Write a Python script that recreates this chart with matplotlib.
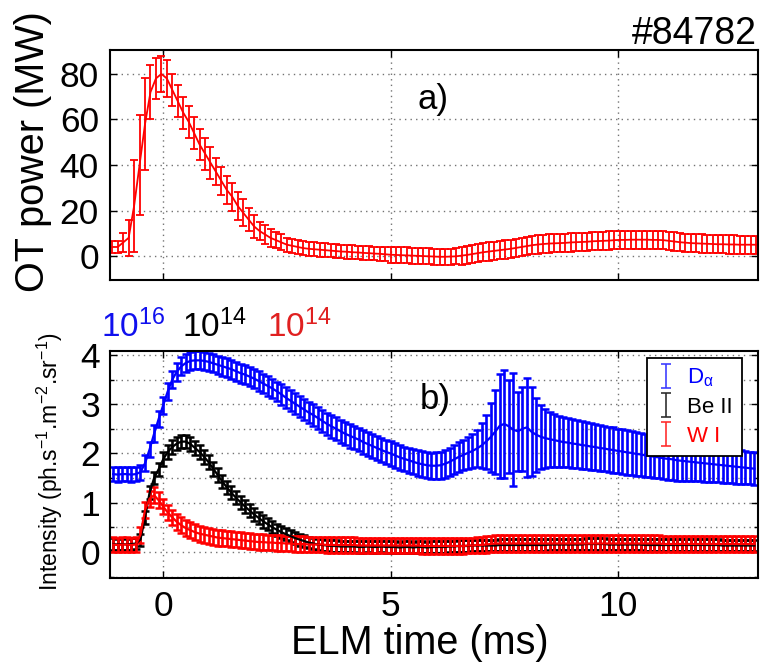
import numpy as np
import matplotlib
matplotlib.use('Agg')
import matplotlib.pyplot as plt
from matplotlib.path import Path
from matplotlib.lines import Line2D
from matplotlib.ticker import MultipleLocator

plt.rcParams['font.family'] = ['Liberation Sans', 'DejaVu Sans']
plt.rcParams['mathtext.fontset'] = 'custom'
plt.rcParams['mathtext.rm'] = 'Liberation Sans'
plt.rcParams['mathtext.it'] = 'Liberation Sans:italic'
plt.rcParams['mathtext.bf'] = 'Liberation Sans:bold'

# ---------------- data ----------------
# (a) outer target power, MW
power_mean = [4, 4, 6, 8, 22, 40, 58, 72, 78, 80, 78, 73, 68, 63, 59, 54, 49, 45, 41, 37,
              33, 29, 26, 22, 19, 16, 13, 11, 9.5, 8, 7, 6, 5, 4.5, 4, 3.5, 3.2,
              3.0, 2.8, 2.6, 2.4, 2.2, 2.0, 1.9, 1.7, 1.6, 1.4,
              1.3, 1.1, 1.0, 0.8, 0.6, 0.5, 0.4, 0.3, 0.2, 0.1,
              0.0, -0.1, -0.2, -0.3, -0.3, -0.2, -0.1, 0.2, 0.5, 0.9,
              1.3, 1.7, 2.0, 2.3, 2.6, 2.9, 3.2, 3.6, 4.0, 4.4,
              4.8, 5.1, 5.3, 5.5, 5.6, 5.7, 5.8, 6.0, 6.1, 6.2,
              6.3, 6.5, 6.6, 6.7, 6.8, 7.0, 7.1, 7.1, 7.2, 7.2,
              7.2, 7.2, 7.1, 7.1, 7.0, 6.7, 6.4, 6.1, 5.9, 5.7,
              5.6, 5.5, 5.4, 5.3, 5.2, 5.2, 5.1, 5.1, 5.0, 5.0,
              5.0, 5.0]
power_err = [2.5, 2.5, 4, 8, 20, 22, 20, 12, 9, 8, 8, 7, 7, 7, 7, 7, 7, 7, 7, 6,
             6, 6, 6, 6, 6, 5, 5, 4, 4, 4, 3.5, 3.5, 3, 3, 3, 3, 3,
             3, 3, 3, 3, 3, 3, 3, 3, 3, 3,
             3, 3, 3, 3, 3.5, 3.5, 3.5, 3.5, 3.5, 3.5,
             3.5, 3.5, 3.5, 3.5, 3.5, 3.5, 3.5, 4, 4, 4,
             4, 4, 4, 4, 4, 4, 4, 4, 4, 4,
             4, 4, 4, 4, 4, 4, 4, 4, 4, 4,
             4, 4, 4, 4, 4, 4, 4, 4, 4, 4,
             4, 4, 4, 4, 4, 4, 4, 4, 4, 4,
             4, 4, 4, 4, 4, 4, 4, 4, 4, 4,
             4, 4]

# (b) line intensities (D-alpha in 1e16, Be II and W I in 1e14 ph/s/m2/sr)
da_mean = [1.58, 1.57, 1.58, 1.58, 1.57, 1.58, 1.62, 1.80, 2.08, 2.40, 2.70, 2.98,
           3.26, 3.50, 3.66, 3.77, 3.84, 3.88, 3.89, 3.89, 3.88, 3.86,
           3.83, 3.80, 3.77, 3.74, 3.71, 3.67, 3.63, 3.60, 3.56, 3.52,
           3.47, 3.42, 3.37, 3.32, 3.26, 3.20, 3.13, 3.07, 3.01, 2.95,
           2.89, 2.83, 2.78, 2.72, 2.66, 2.60, 2.55, 2.50, 2.45, 2.40,
           2.36, 2.32, 2.28, 2.23, 2.19, 2.15, 2.11, 2.07, 2.03, 2.00,
           1.96, 1.92, 1.89, 1.86, 1.83, 1.80, 1.78, 1.76, 1.75, 1.75,
           1.76, 1.79, 1.83, 1.88, 1.93, 1.97, 2.01, 2.05, 2.10, 2.16,
           2.24, 2.33, 2.44, 2.56, 2.60, 2.55, 2.48, 2.45, 2.50, 2.53,
           2.44, 2.38, 2.34, 2.31, 2.29, 2.27, 2.25, 2.23, 2.22, 2.20,
           2.19, 2.17, 2.16, 2.14, 2.13, 2.11, 2.10, 2.08, 2.07, 2.05,
           2.04, 2.02, 2.01, 1.99, 1.98, 1.96, 1.95, 1.93, 1.92, 1.90,
           1.89, 1.88, 1.86, 1.85, 1.84, 1.83, 1.82, 1.81, 1.80, 1.79,
           1.78, 1.77, 1.76, 1.75, 1.74, 1.73, 1.72, 1.71, 1.70, 1.69]
da_err = [0.15, 0.15, 0.15, 0.15, 0.15, 0.15, 0.15, 0.16, 0.16, 0.17, 0.17, 0.17,
          0.17, 0.17, 0.18, 0.18, 0.18, 0.18, 0.18, 0.18, 0.18, 0.18,
          0.18, 0.18, 0.19, 0.19, 0.19, 0.19, 0.19, 0.20, 0.20, 0.20,
          0.20, 0.20, 0.20, 0.20, 0.20, 0.21, 0.21, 0.21, 0.21, 0.21,
          0.21, 0.21, 0.22, 0.22, 0.22, 0.22, 0.23, 0.23, 0.23, 0.23,
          0.24, 0.24, 0.24, 0.24, 0.24, 0.25, 0.25, 0.25, 0.25, 0.25,
          0.25, 0.25, 0.25, 0.25, 0.25, 0.26, 0.26, 0.26, 0.26, 0.27,
          0.27, 0.28, 0.28, 0.29, 0.30, 0.31, 0.33, 0.35, 0.38, 0.45,
          0.55, 0.70, 0.85, 1.05, 1.10, 0.95, 1.15, 0.80, 0.85, 1.00,
          0.90, 0.75, 0.65, 0.60, 0.56, 0.54, 0.52, 0.51, 0.50, 0.50,
          0.49, 0.49, 0.48, 0.48, 0.47, 0.47, 0.46, 0.46, 0.46, 0.45,
          0.45, 0.45, 0.44, 0.44, 0.44, 0.43, 0.43, 0.43, 0.42, 0.42,
          0.42, 0.41, 0.41, 0.40, 0.40, 0.39, 0.39, 0.38, 0.38, 0.37,
          0.37, 0.36, 0.36, 0.35, 0.35, 0.35, 0.34, 0.34, 0.33, 0.33]
be_mean = [0.16, 0.15, 0.16, 0.15, 0.16, 0.17, 0.25, 0.70, 1.20, 1.50, 1.68, 1.88,
           2.03, 2.13, 2.20, 2.24, 2.24, 2.19, 2.11, 2.03, 1.93, 1.82,
           1.69, 1.56, 1.43, 1.31, 1.20, 1.10, 1.01, 0.92, 0.84, 0.76,
           0.69, 0.62, 0.56, 0.50, 0.45, 0.40, 0.36, 0.32, 0.28, 0.25,
           0.22, 0.19, 0.17, 0.15, 0.14, 0.13, 0.12, 0.12, 0.11, 0.11,
           0.11, 0.11, 0.10, 0.10, 0.11, 0.10, 0.10, 0.11, 0.10, 0.10,
           0.10, 0.09, 0.10, 0.10, 0.09, 0.10, 0.10, 0.09, 0.10, 0.10,
           0.10, 0.10, 0.11, 0.11, 0.12, 0.12, 0.12, 0.13, 0.13, 0.13,
           0.13, 0.13, 0.13, 0.14, 0.14, 0.14, 0.14, 0.14, 0.14, 0.14,
           0.14, 0.14, 0.14, 0.14, 0.15, 0.15, 0.15, 0.15, 0.15, 0.15,
           0.15, 0.15, 0.16, 0.16, 0.16, 0.16, 0.16, 0.15, 0.15, 0.15,
           0.15, 0.15, 0.15, 0.15, 0.15, 0.14, 0.14, 0.14, 0.14, 0.14,
           0.14, 0.14, 0.14, 0.14, 0.14, 0.14, 0.14, 0.14, 0.14, 0.14,
           0.14, 0.14, 0.13, 0.13, 0.13, 0.13, 0.13, 0.13, 0.13, 0.13]
be_err = [0.12, 0.12, 0.12, 0.12, 0.12, 0.12, 0.12, 0.13, 0.13, 0.13, 0.13, 0.14,
          0.14, 0.14, 0.14, 0.14, 0.14, 0.14, 0.14, 0.14, 0.14, 0.14,
          0.14, 0.14, 0.14, 0.14, 0.13, 0.13, 0.13, 0.13, 0.13, 0.13,
          0.13, 0.13, 0.12, 0.12, 0.12, 0.12, 0.12, 0.12, 0.12, 0.12,
          0.12, 0.12, 0.12, 0.12, 0.12, 0.12, 0.12, 0.12, 0.12, 0.12,
          0.12, 0.12, 0.12, 0.12, 0.12, 0.12, 0.12, 0.12, 0.12, 0.12,
          0.12, 0.12, 0.12, 0.12, 0.12, 0.12, 0.12, 0.12, 0.12, 0.12,
          0.12, 0.12, 0.12, 0.12, 0.12, 0.12, 0.12, 0.12, 0.12, 0.12,
          0.12, 0.12, 0.12, 0.12, 0.12, 0.12, 0.12, 0.12, 0.12, 0.12,
          0.12, 0.12, 0.12, 0.12, 0.12, 0.12, 0.12, 0.12, 0.12, 0.12,
          0.12, 0.12, 0.12, 0.12, 0.12, 0.12, 0.12, 0.12, 0.12, 0.12,
          0.12, 0.12, 0.12, 0.12, 0.12, 0.12, 0.12, 0.12, 0.12, 0.12,
          0.12, 0.12, 0.12, 0.12, 0.12, 0.12, 0.12, 0.12, 0.12, 0.12,
          0.12, 0.12, 0.12, 0.12, 0.12, 0.12, 0.12, 0.12, 0.12, 0.12]
wi_mean = [0.15, 0.14, 0.15, 0.15, 0.14, 0.15, 0.35, 0.85, 1.08, 1.15, 1.05, 0.92,
           0.80, 0.70, 0.61, 0.54, 0.48, 0.44, 0.40, 0.37, 0.35, 0.33,
           0.31, 0.29, 0.28, 0.27, 0.26, 0.25, 0.24, 0.23, 0.22, 0.21,
           0.20, 0.20, 0.19, 0.19, 0.18, 0.18, 0.17, 0.17, 0.16, 0.16,
           0.16, 0.15, 0.15, 0.15, 0.15, 0.14, 0.14, 0.14, 0.14, 0.14,
           0.14, 0.14, 0.13, 0.13, 0.13, 0.13, 0.13, 0.13, 0.13, 0.13,
           0.13, 0.13, 0.13, 0.13, 0.13, 0.13, 0.12, 0.12, 0.12, 0.12,
           0.12, 0.12, 0.12, 0.12, 0.12, 0.12, 0.13, 0.13, 0.14, 0.14,
           0.15, 0.16, 0.17, 0.17, 0.17, 0.17, 0.17, 0.17, 0.17, 0.17,
           0.17, 0.17, 0.17, 0.17, 0.17, 0.17, 0.17, 0.17, 0.17, 0.17,
           0.17, 0.17, 0.17, 0.17, 0.17, 0.17, 0.17, 0.17, 0.17, 0.17,
           0.17, 0.17, 0.17, 0.17, 0.17, 0.17, 0.17, 0.17, 0.17, 0.16,
           0.16, 0.16, 0.16, 0.16, 0.16, 0.16, 0.16, 0.16, 0.16, 0.16,
           0.16, 0.16, 0.16, 0.16, 0.16, 0.16, 0.16, 0.16, 0.16, 0.16]
wi_err = [0.15, 0.15, 0.15, 0.15, 0.15, 0.15, 0.16, 0.16, 0.16, 0.16, 0.16, 0.16,
          0.16, 0.16, 0.16, 0.16, 0.16, 0.16, 0.16, 0.16, 0.16, 0.16,
          0.16, 0.16, 0.16, 0.16, 0.16, 0.16, 0.16, 0.16, 0.16, 0.16,
          0.16, 0.16, 0.16, 0.16, 0.16, 0.16, 0.16, 0.16, 0.16, 0.16,
          0.16, 0.16, 0.16, 0.16, 0.16, 0.16, 0.16, 0.16, 0.16, 0.16,
          0.16, 0.16, 0.16, 0.16, 0.16, 0.16, 0.16, 0.16, 0.16, 0.16,
          0.16, 0.16, 0.16, 0.16, 0.16, 0.16, 0.16, 0.16, 0.16, 0.16,
          0.16, 0.16, 0.16, 0.16, 0.16, 0.16, 0.16, 0.16, 0.16, 0.16,
          0.17, 0.17, 0.17, 0.17, 0.17, 0.17, 0.17, 0.17, 0.17, 0.17,
          0.17, 0.17, 0.17, 0.17, 0.17, 0.17, 0.17, 0.17, 0.17, 0.17,
          0.17, 0.17, 0.17, 0.17, 0.17, 0.17, 0.17, 0.17, 0.17, 0.17,
          0.17, 0.17, 0.17, 0.17, 0.17, 0.17, 0.17, 0.17, 0.17, 0.17,
          0.17, 0.17, 0.17, 0.17, 0.17, 0.17, 0.17, 0.17, 0.17, 0.17,
          0.17, 0.17, 0.17, 0.17, 0.17, 0.17, 0.17, 0.17, 0.17, 0.17]

t_top = np.round(-1.12 + 0.12 * np.arange(len(power_mean)), 2)
t_bot = np.round(-1.1 + 0.1 * np.arange(len(da_mean)), 2)

series_labels = [r'D$_{\mathrm{\alpha}}$', 'Be II', 'W I']
series_colors = ['#0000ff', '#000000', '#ff0000']
scale_labels = [r'10$^{16}$', r'10$^{14}$', r'10$^{14}$']
xticks = [0, 5, 10]

# ---------------- figure ----------------
W, H = 763, 668
fig = plt.figure(figsize=(W / 100, H / 100), dpi=100)

def box(l, r, t, b):
    return [l / W, 1 - b / H, (r - l) / W, (b - t) / H]

ax1 = fig.add_axes(box(110, 758, 50, 280))
ax2 = fig.add_axes(box(110, 758, 351, 578))

grid_kw = dict(color='0.45', linestyle=(0, (1, 3)), linewidth=1.0)

# top panel
ax1.errorbar(t_top, power_mean, yerr=power_err, color='#ff0000', ecolor='#ff0000',
             lw=1.3, elinewidth=1.3, capsize=3.2, capthick=1.3)
ax1.set_xlim(-1.17, 13.08)
ax1.set_ylim(-10.5, 90.5)
ax1.set_xticks(xticks)
ax1.set_xticklabels([])
ax1.set_yticks([0, 20, 40, 60, 80])
ax1.grid(True, **grid_kw)
ax1.tick_params(direction='in', top=True, right=True, length=5, width=1,
                labelsize=25.5, pad=8)

# bottom panel
for m, e, c in zip([da_mean, be_mean, wi_mean], [da_err, be_err, wi_err], series_colors):
    ax2.errorbar(t_bot, m, yerr=e, color=c, ecolor=c, lw=1.6, elinewidth=1.9,
                 capsize=3.0, capthick=1.8)
ax2.set_xlim(-1.17, 13.08)
ax2.set_ylim(-0.53, 4.08)
ax2.set_xticks(xticks)
ax2.set_yticks([0, 1, 2, 3, 4])
ax2.yaxis.set_minor_locator(MultipleLocator(0.5))
ax2.grid(True, which='major', **grid_kw)
ax2.grid(True, which='minor', axis='y', **grid_kw)
ax2.tick_params(which='both', direction='in', top=True, right=True, width=1,
                labelsize=25.5, pad=7)
ax2.tick_params(which='major', length=5)
ax2.tick_params(which='minor', length=3)
ax2.tick_params(axis='x', pad=9)

for ax in (ax1, ax2):
    for s in ax.spines.values():
        s.set_linewidth(1.5)
    ax.set_axisbelow(True)

# labels
fig.text(33 / W, 1 - 152 / H, 'OT power (MW)', rotation=90, ha='center', va='center',
         fontsize=28.5)
fig.text(50 / W, 1 - 462 / H, r'Intensity (ph.s$^{-1}$.m$^{-2}$.sr$^{-1}$)',
         rotation=90, ha='center', va='center', fontsize=16.5)
fig.text(420 / W, 1 - 643 / H, 'ELM time (ms)', ha='center', va='center', fontsize=28.5)
fig.text(757 / W, 1 - 44 / H, '#84782', ha='right', va='baseline', fontsize=27)
ax1.text((433 - 110) / 648, (280 - 100) / 230, 'a)', transform=ax1.transAxes,
         ha='center', va='center', fontsize=25)
ax2.text((435 - 110) / 648, (578 - 400) / 227, 'b)', transform=ax2.transAxes,
         ha='center', va='center', fontsize=25)

for lbl, c, x in zip(scale_labels, ['#1010ee', '#000000', '#e02020'], [101, 182, 267]):
    fig.text(x / W, 1 - 337 / H, lbl, color=c, ha='left', va='baseline', fontsize=24)

# legend with errorbar-like glyphs
ibar = Path([(-0.4, -1), (0.4, -1), (0, -1), (0, 1), (-0.4, 1), (0.4, 1)],
            [Path.MOVETO, Path.LINETO, Path.MOVETO, Path.LINETO, Path.MOVETO, Path.LINETO])
handles = [Line2D([], [], linestyle='none', marker=ibar, markersize=17,
                  markeredgewidth=1.2, markeredgecolor=c, markerfacecolor='none')
           for c in ['#4040ff', '#303030', '#ff3030']]
leg = ax2.legend(handles, series_labels, loc='upper right',
                 bbox_to_anchor=((742 - 110) / 648, (578 - 358) / 227),
                 borderaxespad=0, fontsize=16, frameon=True, fancybox=False,
                 framealpha=1, edgecolor='black', handlelength=0.9,
                 handletextpad=0.5, labelspacing=0.35, borderpad=0.4)
leg.get_frame().set_linewidth(1.3)
for txt, c in zip(leg.get_texts(), series_colors):
    txt.set_color(c)

fig.savefig('out.png', dpi=100)
